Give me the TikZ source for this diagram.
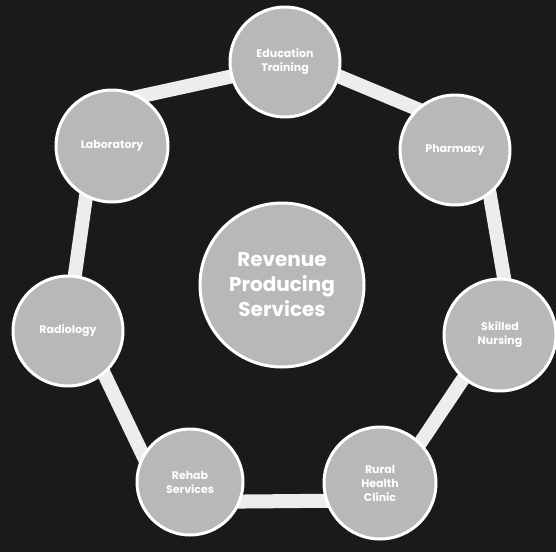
\documentclass[tikz,border=0pt]{standalone}
\usepackage{fontspec}
\setmainfont{Poppins}
\usetikzlibrary{backgrounds}
\definecolor{bgdark}{HTML}{1A1A1A}
\definecolor{disc}{HTML}{B8B8B8}
\definecolor{band}{HTML}{EDEDED}
\begin{document}
\begin{tikzpicture}[x=1pt,y=1pt,
  outer/.style={circle, fill=disc, draw=white, line width=3pt, minimum size=#1,
    inner sep=0pt, text=white, align=center, font=\bfseries\fontsize{11}{14}\selectfont},
  outer/.default=110pt,
  hub/.style={circle, fill=disc, draw=white, line width=3pt, minimum size=164pt,
    inner sep=0pt, text=white, align=center, font=\bfseries\fontsize{20}{25}\selectfont},
  ringband/.style={draw=band, line width=14pt, shorten <=-12pt, shorten >=-12pt}
]
\begin{scope}[on background layer]
  \fill[bgdark] (0,0) rectangle (556,-552);
\end{scope}
\useasboundingbox (0,0) rectangle (556,-552);
\node[hub] (hub) at (282,-285) {Revenue\\Producing\\Services};
\node[outer] (edu) at (285,-62) {Education\\Training};
\node[outer] (pha) at (455,-150) {Pharmacy};
\node[outer=112pt] (sn)  at (500,-335) {Skilled\\Nursing};
\node[outer=112pt] (rhc) at (380,-483) {Rural\\Health\\Clinic};
\node[outer=106pt] (reh) at (190,-482) {Rehab\\Services};
\node[outer] (rad) at (68,-331) {Radiology};
\node[outer=112pt] (lab) at (112,-146) {Laboratory};
\begin{scope}[on background layer]
  \draw[ringband] (lab.60)   -- (edu.195);
  \draw[ringband] (edu.-15)  -- (pha.133);
  \draw[ringband] (pha.-52)  -- (sn.86);
  \draw[ringband] (sn.-130)  -- (rhc.45);
  \draw[ringband] (rhc.198)  -- (reh.-21);
  \draw[ringband] (reh.150)  -- (rad.-50);
  \draw[ringband] (rad.83)   -- (lab.243);
\end{scope}
\end{tikzpicture}
\end{document}
